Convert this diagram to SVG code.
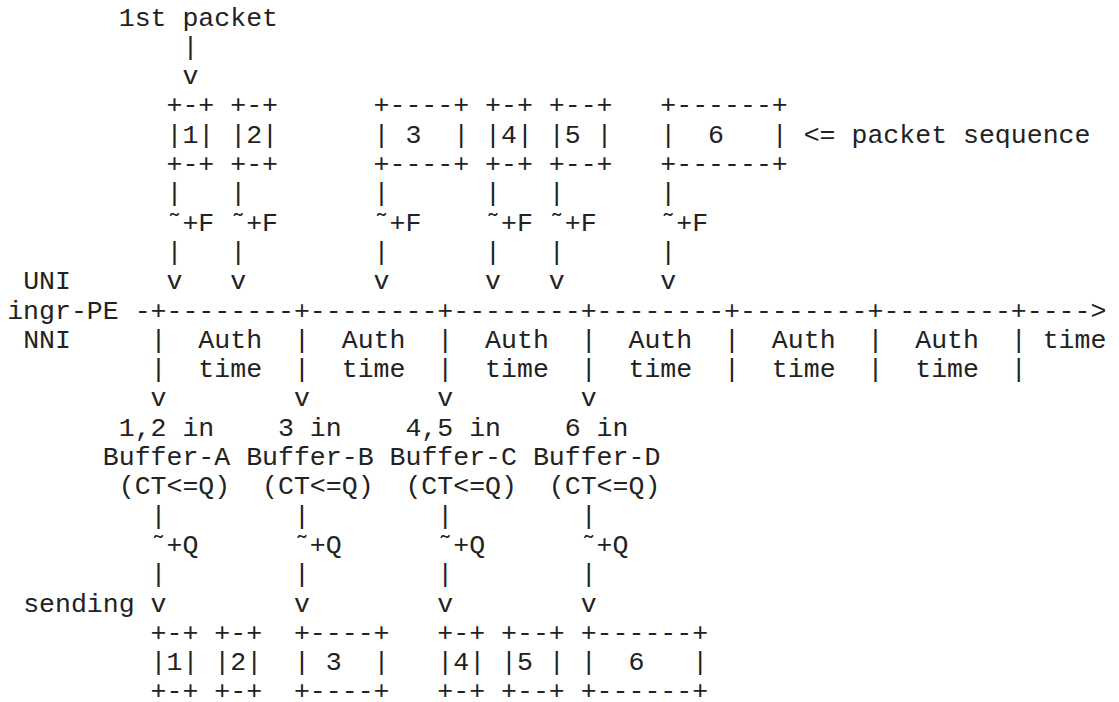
<svg xmlns="http://www.w3.org/2000/svg" width="1119" height="702" viewBox="0 0 1119 702">
<style>
text{font-family:"Liberation Mono","Courier New",monospace;font-size:26.55px;fill:#222;white-space:pre}
</style>
<rect width="1119" height="702" fill="#fff"/>
<g id="first-packet-label"><text x="118.71" y="25.5">1st packet</text></g>
<g id="packet-seq-label"><text x="803.7" y="142.7">&lt;= packet sequence</text></g>
<g id="uni-label"><text x="23.13" y="289.2">UNI</text></g>
<g id="nni-label"><text x="23.13" y="347.8">NNI</text></g>
<g id="sending-label"><text x="23.13" y="611.5">sending</text></g>
<g id="in-p1"><text x="166.5" y="113.4">+-+</text><text x="166.5" y="142.7">|1|</text><text x="166.5" y="172">+-+</text></g>
<g id="in-p2"><text x="230.22" y="113.4">+-+</text><text x="230.22" y="142.7">|2|</text><text x="230.22" y="172">+-+</text></g>
<g id="in-p3"><text x="373.59" y="113.4">+----+</text><text x="373.59" y="142.7">| 3  |</text><text x="373.59" y="172">+----+</text></g>
<g id="in-p4"><text x="485.1" y="113.4">+-+</text><text x="485.1" y="142.7">|4|</text><text x="485.1" y="172">+-+</text></g>
<g id="in-p5"><text x="548.82" y="113.4">+--+</text><text x="548.82" y="142.7">|5 |</text><text x="548.82" y="172">+--+</text></g>
<g id="in-p6"><text x="660.33" y="113.4">+------+</text><text x="660.33" y="142.7">|  6   |</text><text x="660.33" y="172">+------+</text></g>
<g id="time-axis">
<text x="7.2" y="318.5">ingr-PE -+--------+--------+--------+--------+--------+--------+----&gt;</text>
<text x="150.57" y="347.8">|  Auth  |  Auth  |  Auth  |  Auth  |  Auth  |  Auth  | time</text>
<text x="150.57" y="377.1">|  time  |  time  |  time  |  time  |  time  |  time  |</text>
</g>
<g id="buffer-a"><text x="118.71" y="435.7">1,2 in</text><text x="102.78" y="465">Buffer-A</text><text x="118.71" y="494.3">(CT&lt;=Q)</text></g>
<g id="buffer-b"><text x="278.01" y="435.7">3 in</text><text x="246.15" y="465">Buffer-B</text><text x="262.08" y="494.3">(CT&lt;=Q)</text></g>
<g id="buffer-c"><text x="405.45" y="435.7">4,5 in</text><text x="389.52" y="465">Buffer-C</text><text x="405.45" y="494.3">(CT&lt;=Q)</text></g>
<g id="buffer-d"><text x="564.75" y="435.7">6 in</text><text x="532.89" y="465">Buffer-D</text><text x="548.82" y="494.3">(CT&lt;=Q)</text></g>
<g id="out-p1"><text x="150.57" y="640.8">+-+</text><text x="150.57" y="670.1">|1|</text><text x="150.57" y="699">+-+</text></g>
<g id="out-p2"><text x="214.29" y="640.8">+-+</text><text x="214.29" y="670.1">|2|</text><text x="214.29" y="699">+-+</text></g>
<g id="out-p3"><text x="293.94" y="640.8">+----+</text><text x="293.94" y="670.1">| 3  |</text><text x="293.94" y="699">+----+</text></g>
<g id="out-p4"><text x="437.31" y="640.8">+-+</text><text x="437.31" y="670.1">|4|</text><text x="437.31" y="699">+-+</text></g>
<g id="out-p5"><text x="501.03" y="640.8">+--+</text><text x="501.03" y="670.1">|5 |</text><text x="501.03" y="699">+--+</text></g>
<g id="out-p6"><text x="580.68" y="640.8">+------+</text><text x="580.68" y="670.1">|  6   |</text><text x="580.68" y="699">+------+</text></g>
<g id="connectors">
<text x="182.43" y="54.8">|</text><text x="182.43" y="84.1">v</text>
<text x="166.5" y="201.3">|</text><text x="166.5" y="230.6">˜+F</text><text x="166.5" y="259.9">|</text><text x="166.5" y="289.2">v</text>
<text x="230.22" y="201.3">|</text><text x="230.22" y="230.6">˜+F</text><text x="230.22" y="259.9">|</text><text x="230.22" y="289.2">v</text>
<text x="373.59" y="201.3">|</text><text x="373.59" y="230.6">˜+F</text><text x="373.59" y="259.9">|</text><text x="373.59" y="289.2">v</text>
<text x="485.1" y="201.3">|</text><text x="485.1" y="230.6">˜+F</text><text x="485.1" y="259.9">|</text><text x="485.1" y="289.2">v</text>
<text x="548.82" y="201.3">|</text><text x="548.82" y="230.6">˜+F</text><text x="548.82" y="259.9">|</text><text x="548.82" y="289.2">v</text>
<text x="660.33" y="201.3">|</text><text x="660.33" y="230.6">˜+F</text><text x="660.33" y="259.9">|</text><text x="660.33" y="289.2">v</text>
<text x="150.57" y="406.4">v</text><text x="293.94" y="406.4">v</text><text x="437.31" y="406.4">v</text><text x="580.68" y="406.4">v</text>
<text x="150.57" y="523.6">|</text><text x="150.57" y="552.9">˜+Q</text><text x="150.57" y="582.2">|</text><text x="150.57" y="611.5">v</text>
<text x="293.94" y="523.6">|</text><text x="293.94" y="552.9">˜+Q</text><text x="293.94" y="582.2">|</text><text x="293.94" y="611.5">v</text>
<text x="437.31" y="523.6">|</text><text x="437.31" y="552.9">˜+Q</text><text x="437.31" y="582.2">|</text><text x="437.31" y="611.5">v</text>
<text x="580.68" y="523.6">|</text><text x="580.68" y="552.9">˜+Q</text><text x="580.68" y="582.2">|</text><text x="580.68" y="611.5">v</text>
</g>
</svg>
